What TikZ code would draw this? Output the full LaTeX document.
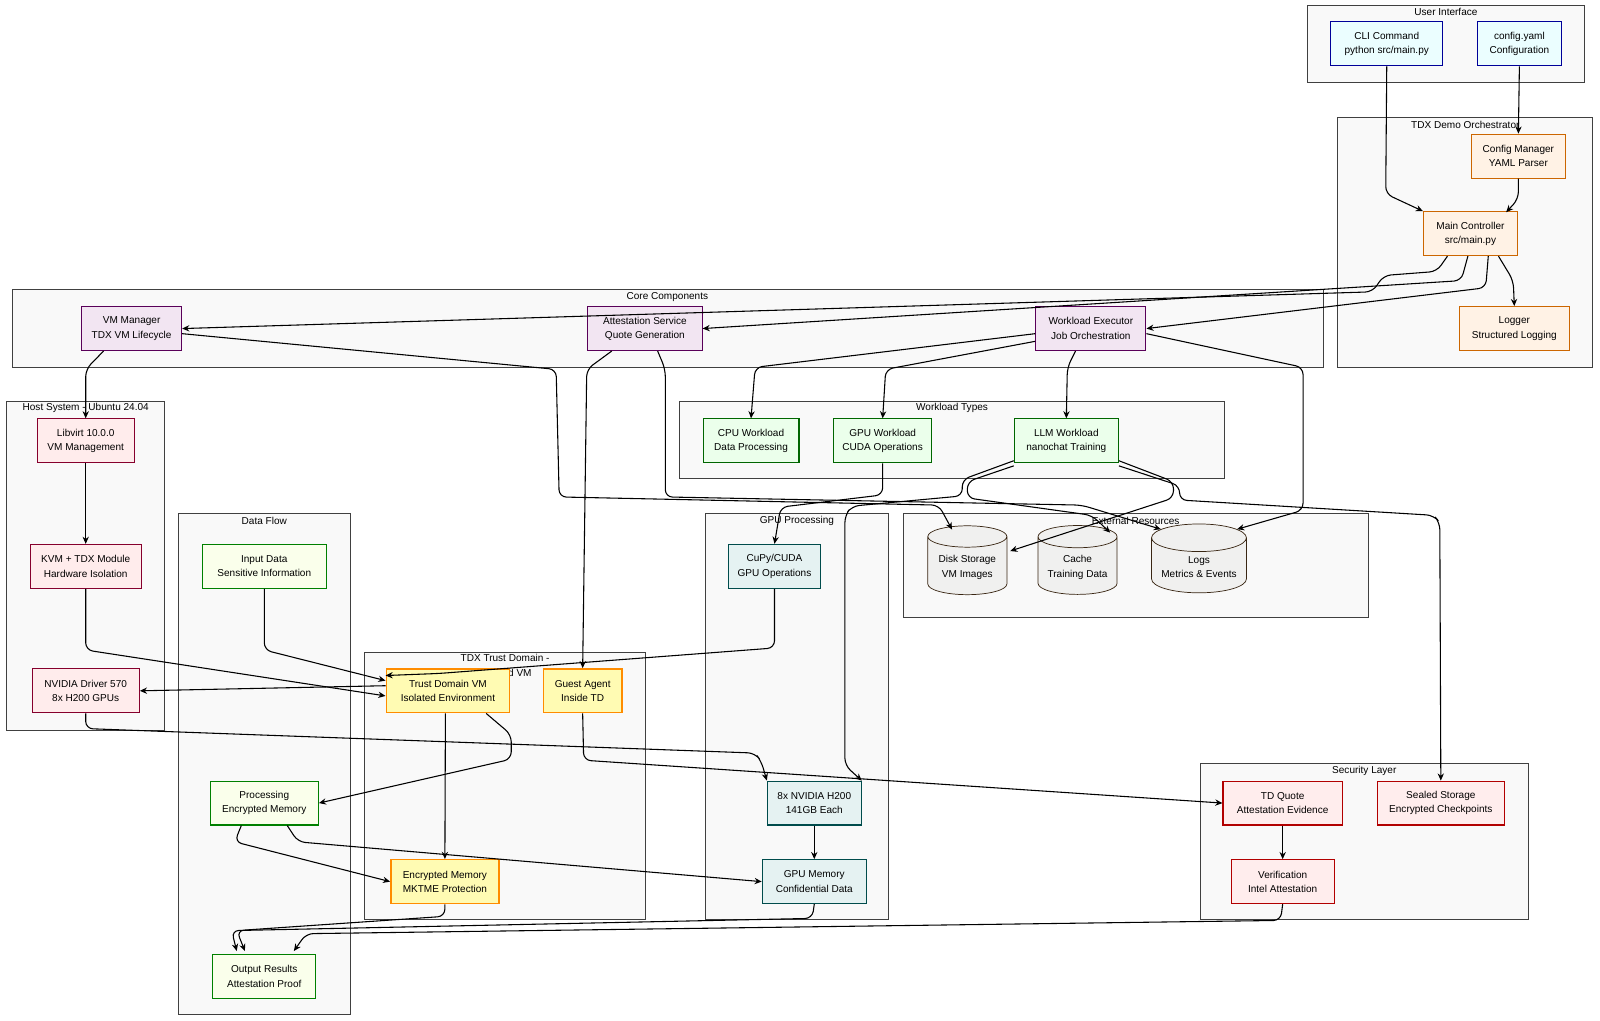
\documentclass[tikz,border=0pt]{standalone}
\usepackage{fontspec}
\setmainfont{Liberation Sans}
\usetikzlibrary{arrows.meta,shapes.geometric}
\begin{document}
\begin{tikzpicture}[x=0.02cm,y=-0.02cm,
  font=\fontsize{5.6}{8}\selectfont,
  b/.style={draw,line width=0.6pt,align=center,minimum height=0.86cm,inner sep=1pt},
  ui/.style={b,fill=blue!6!cyan!8,draw=blue!60!black},
  orc/.style={b,fill=orange!10,draw=orange!80!black},
  core/.style={b,fill=violet!10,draw=violet!70!black},
  host/.style={b,fill=pink!30,draw=purple!70!black},
  wl/.style={b,fill=green!8,draw=green!40!black},
  df/.style={b,fill=lime!8,draw=green!50!black},
  td/.style={b,fill=yellow!30,draw=orange!90!yellow,line width=0.8pt},
  gp/.style={b,fill=teal!10,draw=teal!60!black},
  sec/.style={b,fill=red!7,draw=red!70!black},
  cyl/.style={cylinder,shape border rotate=90,aspect=0.35,draw=brown!30!black,fill=brown!8!gray!12,align=center,minimum width=1.55cm,minimum height=1.35cm,inner sep=1pt},
  cl/.style={draw=black!75,fill=gray!5,line width=0.5pt},
  e/.style={-{Stealth[length=4pt,width=3.5pt]},line width=0.6pt,rounded corners=4pt}]
\useasboundingbox (0,0) rectangle (1568,1000);
\fill[white] (0,0) rectangle (1568,1000);
% clusters
\draw[cl] (1281,5) rectangle (1553,81); \node at (1417,12) {User Interface};
\draw[cl] (1311,115) rectangle (1561,360); \node at (1436,122) {TDX Demo Orchestrator};
\draw[cl] (12,284) rectangle (1297,360); \node at (654,291) {Core Components};
\draw[cl] (6,393) rectangle (161,716); \node at (84,400) {Host System - Ubuntu 24.04};
\draw[cl] (666,393) rectangle (1200,469); \node at (933,400) {Workload Types};
\draw[cl] (175,503) rectangle (343,994); \node at (259,510) {Data Flow};
\draw[cl] (691,503) rectangle (871,901); \node at (781,510) {GPU Processing};
\draw[cl] (885,503) rectangle (1341,605); \node at (1113,510) {External Resources};
\draw[cl] (357,639) rectangle (633,901); \node[align=center] at (495,652) {TDX Trust Domain -\\Isolated VM};
\draw[cl] (1176,748) rectangle (1498,901); \node at (1337,755) {Security Layer};
% nodes
\node[ui,minimum width=2.2cm] (cli) at (1359,43) {CLI Command\\python src/main.py};
\node[ui,minimum width=1.66cm] (cfg) at (1489,43) {config.yaml\\Configuration};
\node[orc,minimum width=1.84cm] (cm) at (1488,153) {Config Manager\\YAML Parser};
\node[orc,minimum width=1.84cm] (mc) at (1441,229) {Main Controller\\src/main.py};
\node[orc,minimum width=2.16cm] (log) at (1484,322) {Logger\\Structured Logging};
\node[core,minimum width=1.96cm] (vmm) at (129,322) {VM Manager\\TDX VM Lifecycle};
\node[core,minimum width=2.24cm] (att) at (632,322) {Attestation Service\\Quote Generation};
\node[core,minimum width=2.16cm] (wex) at (1069,322) {Workload Executor\\Job Orchestration};
\node[host,minimum width=1.9cm] (lib) at (84,432) {Libvirt 10.0.0\\VM Management};
\node[host,minimum width=2.18cm] (kvm) at (84,555) {KVM + TDX Module\\Hardware Isolation};
\node[host,minimum width=2.1cm] (nvd) at (84,677) {NVIDIA Driver 570\\8x H200 GPUs};
\node[wl,minimum width=1.88cm] (cpu) at (736,432) {CPU Workload\\Data Processing};
\node[wl,minimum width=1.92cm] (gpu) at (865,432) {GPU Workload\\CUDA Operations};
\node[wl,minimum width=2.04cm] (llm) at (1045,432) {LLM Workload\\nanochat Training};
\node[df,minimum width=2.44cm] (inp) at (259,555) {Input Data\\Sensitive Information};
\node[df,minimum width=2.12cm] (proc) at (259,787) {Processing\\Encrypted Memory};
\node[df,minimum width=2.02cm] (out) at (259,957) {Output Results\\Attestation Proof};
\node[td,minimum width=2.42cm] (tdvm) at (439,677) {Trust Domain VM\\Isolated Environment};
\node[td,minimum width=1.54cm] (ga) at (571,677) {Guest Agent\\Inside TD};
\node[td,minimum width=2.12cm] (em) at (436,864) {Encrypted Memory\\MKTME Protection};
\node[gp,minimum width=1.82cm] (cupy) at (759,555) {CuPy/CUDA\\GPU Operations};
\node[gp,minimum width=1.84cm] (h200) at (798,787) {8x NVIDIA H200\\141GB Each};
\node[gp,minimum width=2.04cm] (gm) at (798,864) {GPU Memory\\Confidential Data};
\node[cyl] (disk) at (948,556) {Disk Storage\\VM Images};
\node[cyl] (cache) at (1056,556) {Cache\\Training Data};
\node[cyl,minimum width=1.86cm] (logs) at (1175,556) {Logs\\Metrics \& Events};
\node[sec,minimum width=2.34cm] (tdq) at (1257,787) {TD Quote\\Attestation Evidence};
\node[sec,minimum width=2.5cm] (seal) at (1412,787) {Sealed Storage\\Encrypted Checkpoints};
\node[sec,minimum width=2.02cm] (ver) at (1257,864) {Verification\\Intel Attestation};
% edges
\draw[e] (cli.south) -- (1358,190) -- (mc.north west);
\draw[e] (cfg.south) -- (cm.north);
\draw[e] (cm.south) -- (1488,195) -- (1476,208);
\draw[e] ([xshift=0.55cm]mc.south) -- (1483,275) -- (log.north);
\draw[e] ([xshift=-0.45cm]mc.south) -- (1408,266) -- (1356,270) -- (1345,286) -- (vmm.east);
\draw[e] ([xshift=-0.05cm]mc.south) -- (1432,275) -- (att.east);
\draw[e] ([xshift=0.35cm]mc.south) -- (1456,282) -- (wex.east);
\draw[e] ([xshift=-0.55cm]vmm.south) -- (84,362) -- (lib.north);
\draw[e] (lib.south) -- (kvm.north);
\draw[e] ([yshift=-0.1cm]vmm.east) -- (545,362) -- (548,487) -- (920,495) -- (933,519);
\draw[e] ([xshift=0.25cm]att.south) -- (652,362) -- (652,487) -- (1060,495) -- (logs.north west);
\draw[e] ([xshift=-0.65cm]att.south) -- (575,362) -- (ga.north);
\draw[e] ([yshift=-0.1cm]wex.west) -- (740,360) -- (cpu.north);
\draw[e] ([yshift=-0.25cm]wex.west) -- (868,362) -- (gpu.north);
\draw[e] ([xshift=-0.3cm]wex.south) -- (1046,360) -- (llm.north);
\draw[e] ([yshift=-0.1cm]wex.east) -- (1277,360) -- (1277,500) -- (logs.north east);
\draw[e] (gpu.south) -- (865,485) -- (765,497) -- (cupy.north);
\draw[e] ([yshift=0.05cm]llm.south west) -- (943,470) -- (943,486) -- (835,496) -- (828,505) -- (828,750) -- (h200.north east);
\draw[e] ([yshift=-0.05cm]llm.south west) -- (948,472) -- (948,488) -- (1070,505) -- (1088,522);
\draw[e] ([yshift=0.05cm]llm.south east) -- (1150,472) -- (1150,488) -- (990,540);
\draw[e] ([yshift=-0.05cm]llm.south east) -- (1156,476) -- (1156,490) -- (1405,505) -- (1411,512) -- (seal.north);
\draw[e] (kvm.south) -- (84,637) -- ([yshift=-0.1cm]tdvm.west);
\draw[e] (inp.south) -- (259,637) -- ([yshift=0.2cm]tdvm.west);
\draw[e] (cupy.south) -- (759,635) -- (430,660) -- ([yshift=0.3cm]tdvm.west);
\draw[e] ([yshift=0.1cm]tdvm.west) -- (nvd.east);
\draw[e] (nvd.south) -- (84,714) -- (740,738) -- (746,746) -- (h200.north west);
\draw[e] (ga.south) -- (572,745) -- (tdq.west);
\draw[e] ([xshift=0.75cm]tdvm.south) -- (501,720) -- (501,744) -- (proc.east);
\draw[e] ([xshift=-0.05cm]tdvm.south) -- (em.north);
\draw[e] (h200.south) -- (gm.north);
\draw[e] ([xshift=-0.45cm]proc.south) -- (230,825) -- (em.west);
\draw[e] ([xshift=0.45cm]proc.south) -- (292,825) -- (gm.west);
\draw[e] (tdq.south) -- (ver.north);
\draw[e] (em.south) -- (436,898) -- (232,912) -- (240,932);
\draw[e] (gm.south) -- (796,900) -- (227,912) -- (232,932);
\draw[e] (ver.south) -- (1255,902) -- (300,915) -- (288,932);
\end{tikzpicture}
\end{document}
